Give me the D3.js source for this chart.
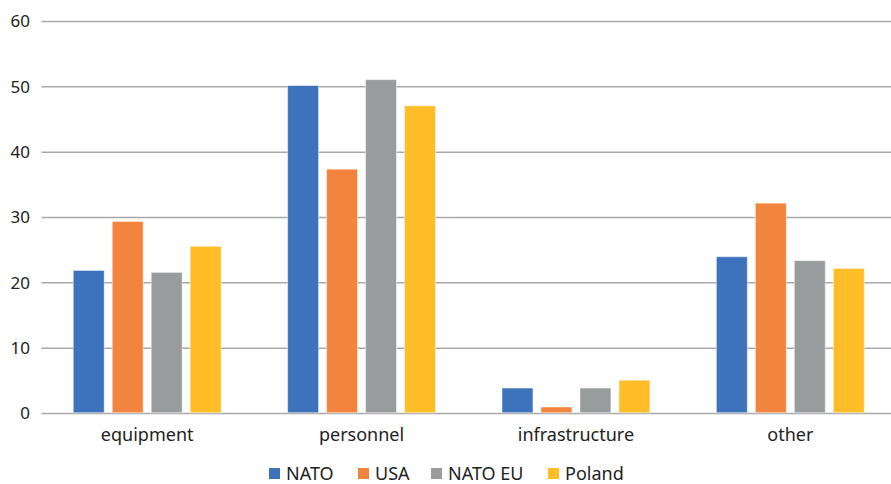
<!DOCTYPE html>
<html>
<head>
<meta charset="utf-8">
<script src="https://cdn.jsdelivr.net/npm/d3@7"></script>
<style>
  body { margin: 0; background: #fff; }
  text { font-family: "Noto Sans", "Open Sans", sans-serif; fill: #222; }
</style>
</head>
<body>
<svg id="chart" width="891" height="484"></svg>
<script>
// chart data
var categories = ["equipment", "personnel", "infrastructure", "other"];
var series = ["NATO", "USA", "NATO EU", "Poland"];
var nato = [21.9, 50.2, 3.9, 24.0];
var usa = [29.4, 37.4, 1.0, 32.2];
var natoEu = [21.6, 51.1, 3.9, 23.4];
var poland = [25.6, 47.1, 5.1, 22.2];
var yTicks = [0, 10, 20, 30, 40, 50, 60];

var colors = ["#3d72bc", "#f2843d", "#999c9c", "#ffbd27"];
var values = [nato, usa, natoEu, poland];

var svg = d3.select("#chart");

// scales
var y = d3.scaleLinear().domain([0, 60]).range([413.5, 21.5]);

var x0 = d3.scaleBand()
  .domain(categories)
  .range([40, 897.5])
  .paddingInner(0.31)
  .paddingOuter(0.155);

var x1 = d3.scaleBand()
  .domain(series)
  .range([0, x0.bandwidth()])
  .paddingInner(0.205);

// gridlines
svg.append("g")
  .selectAll("line")
  .data(yTicks)
  .enter()
  .append("line")
  .attr("x1", 41.5)
  .attr("x2", 891)
  .attr("y1", function(d) { return y(d); })
  .attr("y2", function(d) { return y(d); })
  .attr("stroke", "#a9a9a9")
  .attr("stroke-width", 1.5);

// y tick labels
svg.append("g")
  .selectAll("text")
  .data(yTicks)
  .enter()
  .append("text")
  .attr("x", 30)
  .attr("y", function(d) { return y(d); })
  .attr("dy", "0.35em")
  .attr("text-anchor", "end")
  .attr("font-size", 17)
  .text(function(d) { return d; });

// bars
var groups = svg.append("g")
  .selectAll("g")
  .data(categories)
  .enter()
  .append("g")
  .attr("transform", function(d) { return "translate(" + x0(d) + ",0)"; });

groups.selectAll("rect")
  .data(function(d, i) {
    return series.map(function(s, j) { return { s: s, v: values[j][i], c: colors[j] }; });
  })
  .enter()
  .append("rect")
  .attr("x", function(d) { return x1(d.s); })
  .attr("y", function(d) { return y(d.v); })
  .attr("width", x1.bandwidth())
  .attr("height", function(d) { return y(0) - y(d.v) - 0.75; })
  .attr("fill", function(d) { return d.c; })
  .attr("stroke", "#ffffff")
  .attr("stroke-opacity", 0.5)
  .attr("stroke-width", 1);

// category labels
svg.append("g")
  .selectAll("text")
  .data(categories)
  .enter()
  .append("text")
  .attr("x", function(d) { return x0(d) + x0.bandwidth() / 2; })
  .attr("y", 441)
  .attr("text-anchor", "middle")
  .attr("font-size", 18)
  .text(function(d) { return d; });

// legend
var legendX = [269, 358, 431, 548];
var legend = svg.append("g")
  .selectAll("g")
  .data(series)
  .enter()
  .append("g")
  .attr("transform", function(d, i) { return "translate(" + legendX[i] + ",468)"; });

legend.append("rect")
  .attr("width", 11)
  .attr("height", 11)
  .attr("fill", function(d, i) { return colors[i]; });

legend.append("text")
  .attr("x", 17)
  .attr("y", 12)
  .attr("font-size", 18)
  .text(function(d) { return d; });
</script>
</body>
</html>
